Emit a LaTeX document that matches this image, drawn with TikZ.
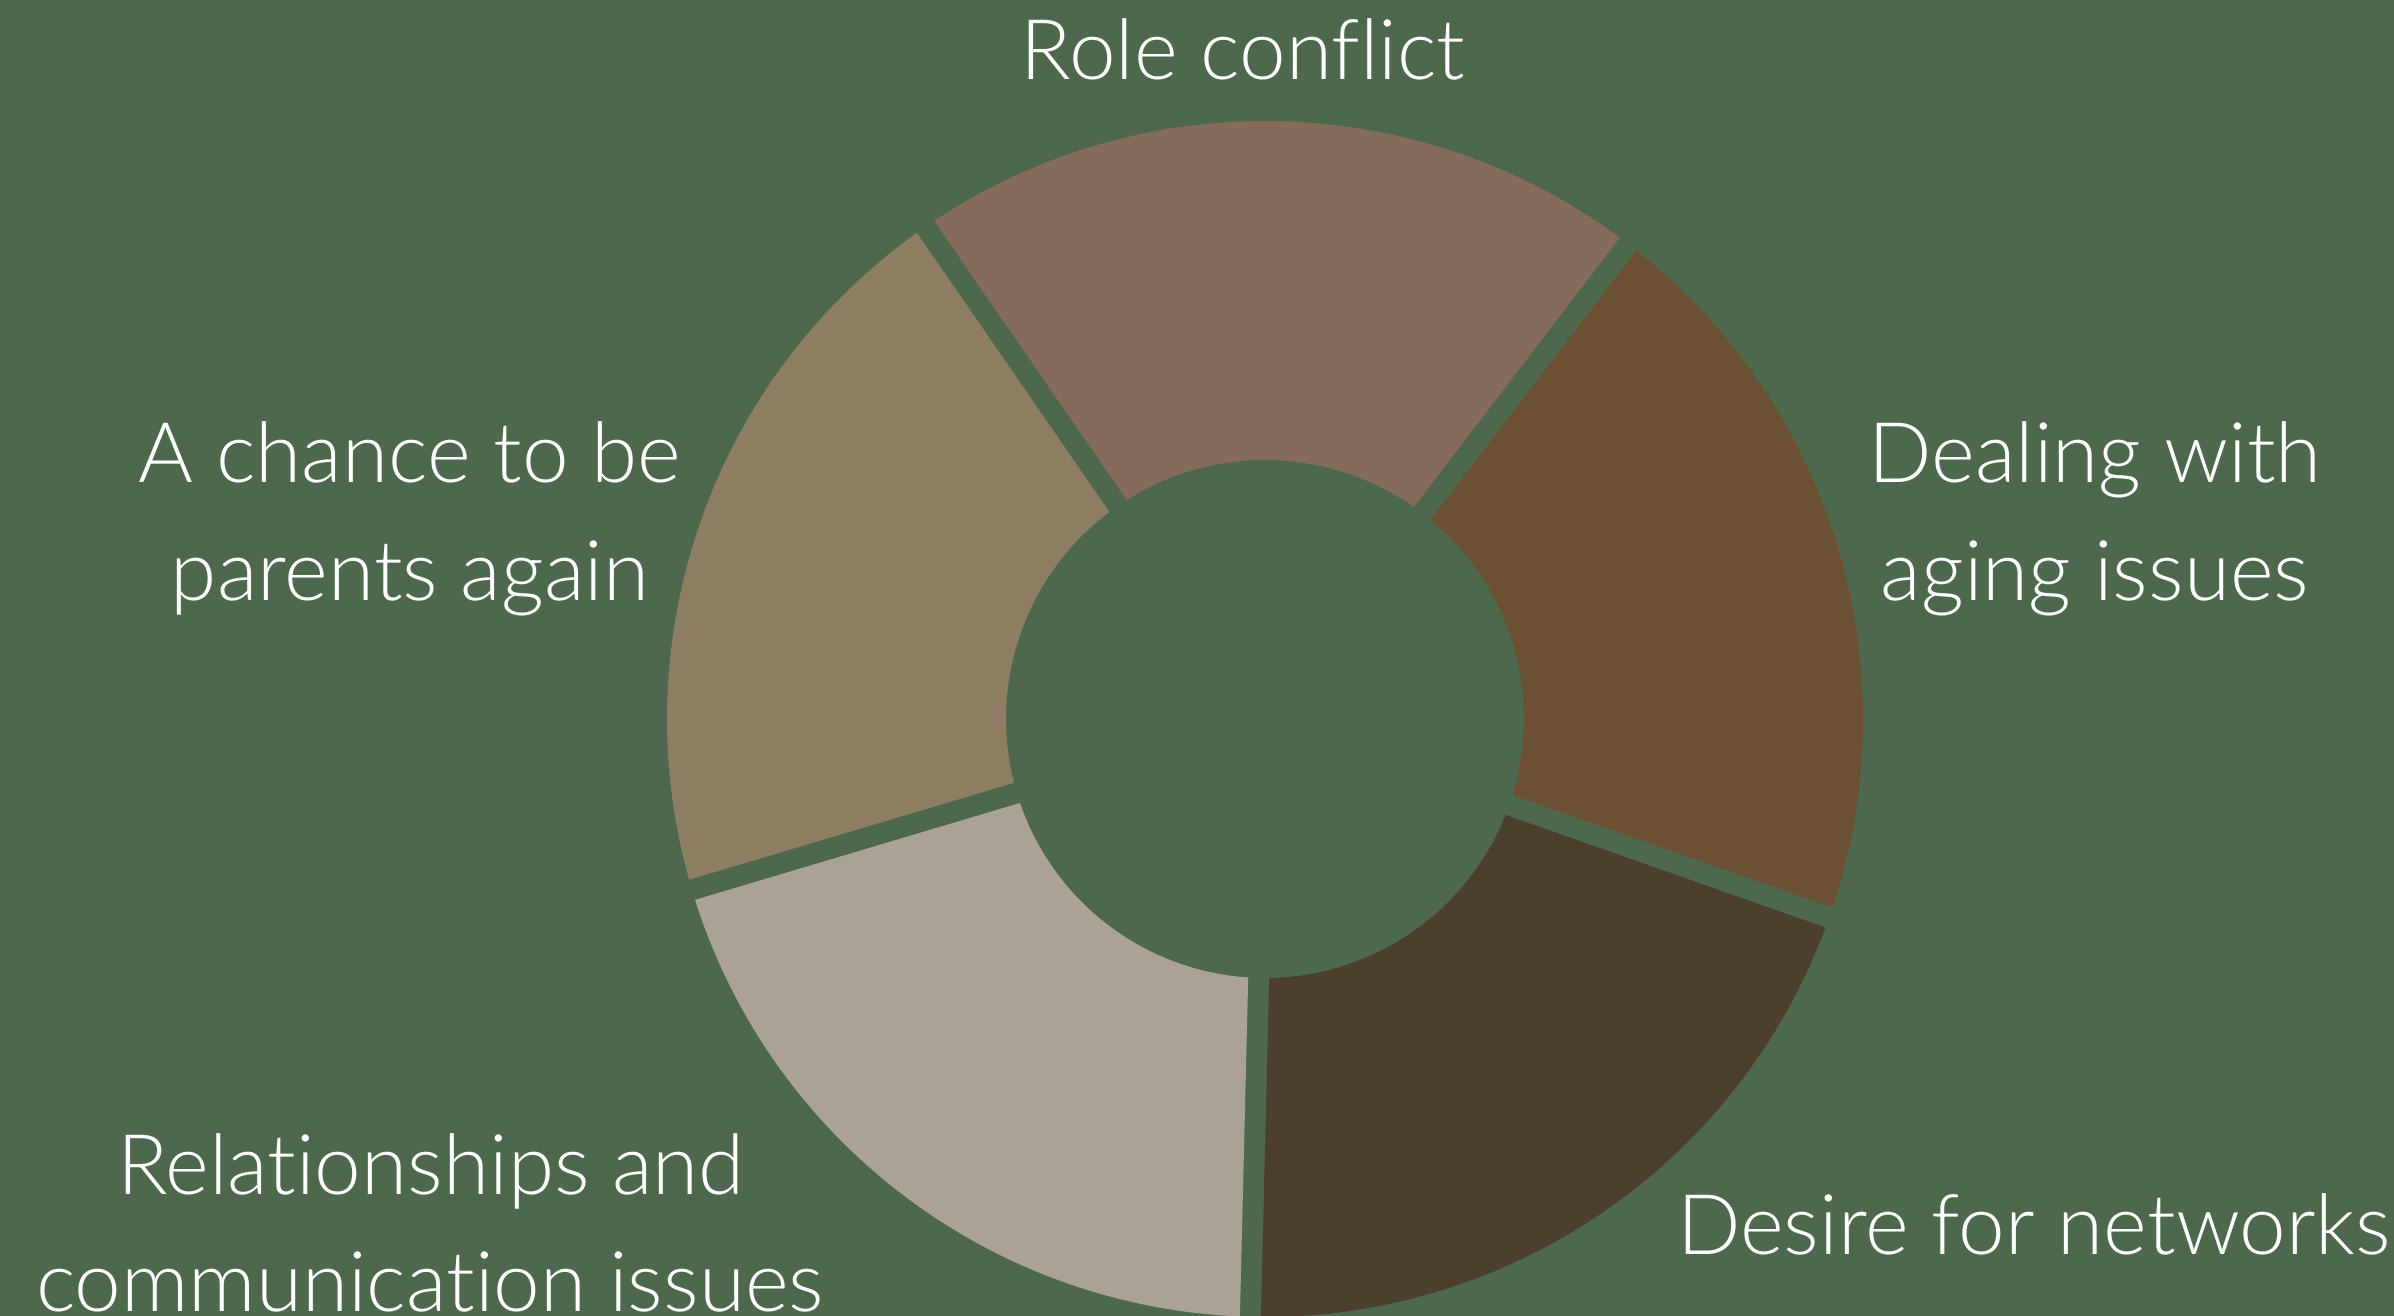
\documentclass[tikz,border=0pt]{standalone}
\usepackage{fontspec}
\IfFontExistsTF{Lato Light}{\setmainfont{Lato Light}[Ligatures={NoCommon}]}{\setmainfont{Lato}[Ligatures={NoCommon}]}
\definecolor{bgc}{HTML}{4E684E}
\definecolor{segRole}{HTML}{846B5C}
\definecolor{segChance}{HTML}{8C7D63}
\definecolor{segRel}{HTML}{AAA294}
\definecolor{segDesire}{HTML}{4C3F2E}
\definecolor{segDeal}{HTML}{6C5033}
\tikzset{
  lbl/.style={text=white, inner sep=0pt, anchor=base, font=\fontsize{23.8pt}{33.6pt}\selectfont},
}
\begin{document}
\begin{tikzpicture}[x=0.01cm,y=0.01cm]
\fill[bgc] (0,0) rectangle (2394,1316);
\useasboundingbox (0,0) rectangle (2394,1316);
\begin{scope}[shift={(1265,597)}]
\foreach \a/\c in {52.6/segRole,124.6/segChance,196.6/segRel,268.6/segDesire,340.6/segDeal}{
  \pgfmathsetmacro\b{\a+72}
  \fill[\c] (\a+2.323:259) -- (\a+1.006:598)
     arc[start angle=\a+1.006, end angle=\b-1.006, radius=598]
     -- (\b-2.323:259)
     arc[start angle=\b-2.323, end angle=\a+2.323, radius=259] -- cycle;
}
\end{scope}
\node[lbl] (role) at (1243,1236) {Role conflict};
\node[lbl] (chance1) at (410,833) {A chance to be};
\node[lbl] (chance2) at (410,715) {parents again};
\node[lbl] (deal1) at (2095,833) {Dealing with};
\node[lbl] (deal2) at (2095,715) {aging issues};
\node[lbl] (rel1) at (431,121) {Relationships and};
\node[lbl] (rel2) at (430,4) {communication issues};
\node[lbl] (desire) at (2034,61) {Desire for networks};
\end{tikzpicture}
\end{document}
